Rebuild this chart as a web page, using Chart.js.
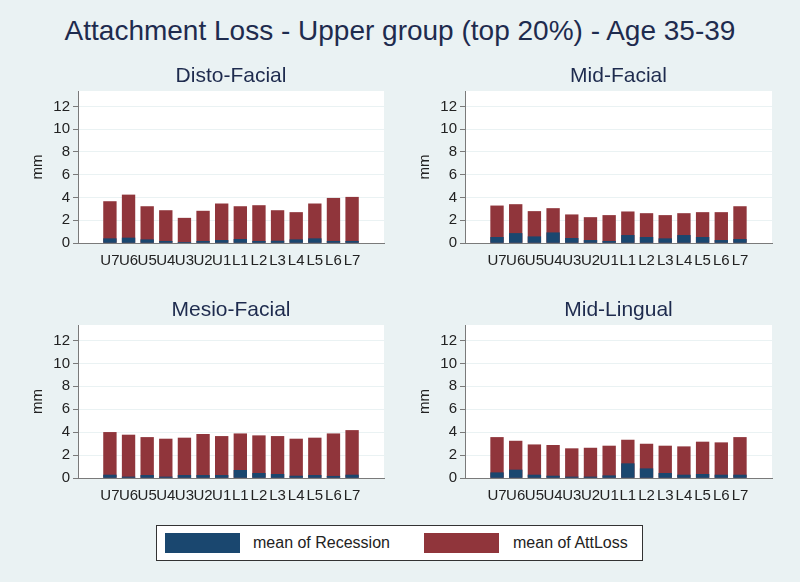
<!DOCTYPE html>
<html>
<head>
<meta charset="utf-8">
<script src="https://cdn.jsdelivr.net/npm/chart.js@4"></script>
<style>
body { margin:0; width:800px; height:582px; background:#eaf2f3; position:relative; overflow:hidden; font-family:"Liberation Sans", Arial, sans-serif; }
#title { position:absolute; left:0; top:16px; width:800px; text-align:center; font-size:28px; line-height:30px; color:#1e2b4e; }
canvas { position:absolute; }
#legend { position:absolute; left:156px; top:525px; width:487px; height:36px; box-sizing:border-box; border:1px solid #333; background:#fff; }
.sw { position:absolute; width:75px; height:20px; top:7px; }
.lt { position:absolute; top:8px; font-size:16px; line-height:18px; color:#222; }
</style>
</head>
<body>
<div id="title">Attachment Loss - Upper group (top 20%) - Age 35-39</div>
<canvas id="c1" width="400" height="225" style="left:0;top:55px"></canvas>
<canvas id="c2" width="400" height="225" style="left:400px;top:55px"></canvas>
<canvas id="c3" width="400" height="225" style="left:0;top:289px"></canvas>
<canvas id="c4" width="400" height="225" style="left:400px;top:289px"></canvas>
<div id="legend">
  <div class="sw" style="left:8px;background:#1a476f"></div>
  <div class="lt" style="left:96px">mean of Recession</div>
  <div class="sw" style="left:267px;background:#90353b"></div>
  <div class="lt" style="left:356px">mean of AttLoss</div>
</div>
<script>
const teeth = ["U7","U6","U5","U4","U3","U2","U1","L1","L2","L3","L4","L5","L6","L7"];

const distoRec = [0.38, 0.44, 0.29, 0.15, 0.03, 0.15, 0.23, 0.32, 0.15, 0.17, 0.29, 0.38, 0.15, 0.15];
const distoAtt = [3.64, 4.22, 3.2, 2.85, 2.18, 2.8, 3.44, 3.2, 3.29, 2.85, 2.68, 3.44, 3.93, 4.02];

const midFacRec = [0.5, 0.84, 0.55, 0.9, 0.41, 0.23, 0.15, 0.67, 0.5, 0.38, 0.67, 0.5, 0.23, 0.32];
const midFacAtt = [3.26, 3.38, 2.77, 3.03, 2.48, 2.24, 2.42, 2.74, 2.59, 2.42, 2.59, 2.68, 2.68, 3.2];

const mesioRec = [0.26, 0.09, 0.23, 0.09, 0.23, 0.23, 0.23, 0.67, 0.41, 0.32, 0.17, 0.23, 0.15, 0.26];
const mesioAtt = [3.98, 3.75, 3.54, 3.4, 3.49, 3.81, 3.63, 3.86, 3.69, 3.63, 3.4, 3.49, 3.86, 4.15];

const lingRec = [0.46, 0.7, 0.26, 0.17, 0.09, 0.09, 0.2, 1.25, 0.81, 0.41, 0.26, 0.32, 0.26, 0.26];
const lingAtt = [3.54, 3.22, 2.9, 2.85, 2.56, 2.61, 2.79, 3.31, 2.96, 2.79, 2.73, 3.14, 3.08, 3.54];

const yTicks = [0, 2, 4, 6, 8, 10, 12];

// white plot region like stata
const plotBg = {
    id: "plotBg",
    beforeDraw(chart) {
        const a = chart.chartArea;
        const ctx = chart.ctx;
        ctx.save();
        ctx.fillStyle = "#ffffff";
        ctx.fillRect(a.left, a.top, a.right - a.left, a.bottom - a.top);
        ctx.restore();
    }
};

function pts(values) {
    return values.map((v, i) => ({ x: i, y: v }));
}

function makePanel(id, title, rec, att, leftW, rightPad, xH, mmPad) {
    const ctx = document.getElementById(id).getContext("2d");
    return new Chart(ctx, {
        type: "bar",
        data: {
            datasets: [{
                label: "mean of Recession",
                data: pts(rec),
                backgroundColor: "#1a476f",
                barThickness: 12.7,
                grouped: false
            }, {
                label: "mean of AttLoss",
                data: pts(att),
                backgroundColor: "#90353b",
                barThickness: 12.7,
                grouped: false
            }]
        },
        options: {
            responsive: false,
            animation: false,
            layout: { padding: { left: 0, right: rightPad, top: 0, bottom: 0 } },
            plugins: {
                legend: { display: false },
                tooltip: { enabled: false },
                title: {
                    display: true,
                    text: title,
                    fullSize: false,
                    color: "#1e2b4e",
                    font: { family: "Liberation Sans", size: 21, weight: "normal" },
                    padding: { top: 9, bottom: 1.8 }
                }
            },
            scales: {
                x: {
                    type: "linear",
                    min: -1.2,
                    max: 14.2,
                    afterFit: s => { s.height = xH; },
                    grid: { display: false, drawTicks: false },
                    border: { display: true, color: "#7a7a7a" },
                    ticks: {
                        stepSize: 1,
                        includeBounds: false,
                        autoSkip: false,
                        maxRotation: 0,
                        minRotation: 0,
                        padding: 9,
                        color: "#222",
                        font: { family: "Liberation Sans", size: 15 },
                        callback: v => Number.isInteger(v) && teeth[v] ? teeth[v] : ""
                    }
                },
                y: {
                    min: 0,
                    max: 13.35,
                    afterFit: s => { s.width = leftW; },
                    afterBuildTicks: s => { s.ticks = yTicks.map(v => ({ value: v })); },
                    grid: { color: "#eaf2f3", tickColor: "#7a7a7a", tickLength: 5 },
                    border: { display: true, color: "#7a7a7a" },
                    ticks: {
                        padding: 3,
                        color: "#222",
                        font: { family: "Liberation Sans", size: 15 }
                    },
                    title: {
                        display: true,
                        text: "mm",
                        color: "#222",
                        font: { family: "Liberation Sans", size: 15 },
                        padding: { top: mmPad, bottom: 0 }
                    }
                }
            }
        },
        plugins: [plotBg]
    });
}

makePanel("c1", "Disto-Facial", distoRec, distoAtt, 78, 16, 37, 29);
makePanel("c2", "Mid-Facial", midFacRec, midFacAtt, 65, 28, 37, 16);
makePanel("c3", "Mesio-Facial", mesioRec, mesioAtt, 78, 16, 36, 29);
makePanel("c4", "Mid-Lingual", lingRec, lingAtt, 65, 28, 36, 16);
</script>
</body>
</html>
